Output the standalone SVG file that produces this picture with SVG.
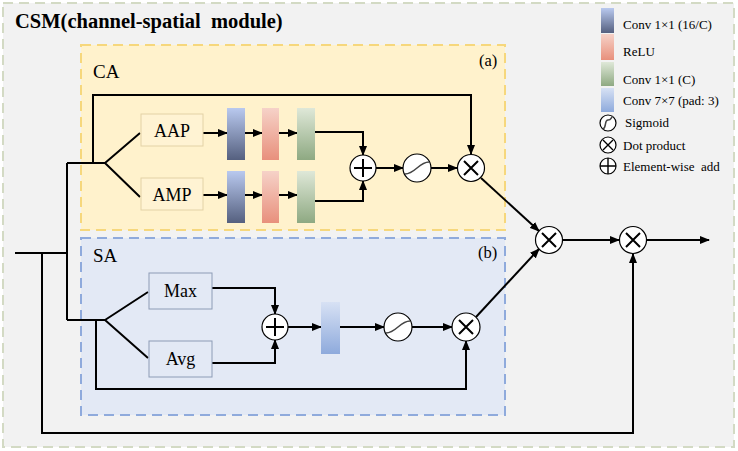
<svg xmlns="http://www.w3.org/2000/svg" width="738" height="451" viewBox="0 0 738 451">
<defs>
<marker id="arr" markerUnits="userSpaceOnUse" markerWidth="10" markerHeight="8" refX="9" refY="4" orient="auto">
<path d="M0,0 L10,4 L0,8 Z" fill="#000"/>
</marker>
<linearGradient id="gBlue" x1="0" y1="0" x2="0" y2="1"><stop offset="0" stop-color="#b9c9ef"/><stop offset="1" stop-color="#55607f"/></linearGradient>
<linearGradient id="gPink" x1="0" y1="0" x2="0" y2="1"><stop offset="0" stop-color="#f6d2c8"/><stop offset="1" stop-color="#e8907c"/></linearGradient>
<linearGradient id="gGreen" x1="0" y1="0" x2="0" y2="1"><stop offset="0" stop-color="#dfe8d8"/><stop offset="1" stop-color="#8ea982"/></linearGradient>
<linearGradient id="gLight" x1="0" y1="0" x2="0" y2="1"><stop offset="0" stop-color="#d7e1f4"/><stop offset="1" stop-color="#8eaadc"/></linearGradient>
</defs>
<style>
.t{font-family:"Liberation Serif","Times New Roman",serif;fill:#000}
.lbl{font-size:18px}
.lg{font-size:13px}
.c{fill:none;stroke:#000;stroke-width:2}
.ca{marker-end:url(#arr)}
.op{fill:#fff;stroke:#000;stroke-width:1.2}
.sym{fill:none;stroke:#000;stroke-width:2}
.sig{fill:none;stroke:#444;stroke-width:1.5}
</style>
<g id="outer">
<rect x="3" y="3" width="731" height="444" fill="#f2f2f2" stroke="#d3dac4" stroke-width="2" stroke-dasharray="10,6"/>
<text class="t" x="15" y="28" font-size="20.5" font-weight="bold" xml:space="preserve">CSM(channel-spatial  module)</text>
</g>
<g id="CA">
<rect x="81" y="45" width="424" height="185" fill="#fff2cc" stroke="#f6d77c" stroke-width="2" stroke-dasharray="10,6"/>
<text class="t" x="93" y="78" font-size="19">CA</text>
<text class="t" x="479" y="66" font-size="16.5">(a)</text>
</g>
<g id="SA">
<rect x="81" y="238" width="424" height="177" fill="#e3e9f5" stroke="#8faadc" stroke-width="2" stroke-dasharray="10,6"/>
<text class="t" x="93" y="262" font-size="19">SA</text>
<text class="t" x="478" y="258" font-size="16.5">(b)</text>
</g>
<g id="connectors">
<path class="c" d="M15,253 H67"/>
<path class="c" d="M67,163 V320"/>
<path class="c" d="M67,163 H105"/>
<path class="c ca" d="M93,163 V95 H471 V154"/>
<path class="c" d="M105,163 L140,133 M105,163 L140,197"/>
<path class="c ca" d="M203,133 H227"/>
<path class="c ca" d="M245,133 H262"/>
<path class="c ca" d="M279,133 H297"/>
<path class="c ca" d="M203,195 H227"/>
<path class="c ca" d="M245,195 H262"/>
<path class="c ca" d="M279,195 H297"/>
<path class="c ca" d="M315,132 H363 V155"/>
<path class="c ca" d="M315,201 H363 V181"/>
<path class="c ca" d="M376,168 H403"/>
<path class="c ca" d="M431,168 H457"/>
<path class="c ca" d="M481,178 L539,231"/>
<path class="c" d="M67,320 H105"/>
<path class="c" d="M105,320 L148,292 M105,320 L148,358"/>
<path class="c ca" d="M96,320 V389 H466 V341"/>
<path class="c ca" d="M212,288 H275 V314"/>
<path class="c ca" d="M212,363 H275 V340"/>
<path class="c ca" d="M288,327 H321"/>
<path class="c ca" d="M340,327 H384"/>
<path class="c ca" d="M412,327 H452"/>
<path class="c ca" d="M476,317 L539,249"/>
<path class="c ca" d="M563,240 H619"/>
<path class="c ca" d="M647,240 H709"/>
<path class="c ca" d="M42,253 V433 H633 V254"/>
</g>
<g id="AAP">
<rect x="141" y="114" width="62" height="32" fill="#fff3d3" stroke="#e3d2a6" stroke-width="1"/>
<text class="t lbl" x="172" y="137" text-anchor="middle">AAP</text>
</g>
<g id="AMP">
<rect x="141" y="178" width="62" height="32" fill="#fff3d3" stroke="#e3d2a6" stroke-width="1"/>
<text class="t lbl" x="172" y="201" text-anchor="middle">AMP</text>
</g>
<g id="conv1a"><rect x="227" y="108" width="18" height="52" fill="url(#gBlue)"/></g>
<g id="relua"><rect x="262" y="108" width="17" height="52" fill="url(#gPink)"/></g>
<g id="conv2a"><rect x="297" y="108" width="18" height="52" fill="url(#gGreen)"/></g>
<g id="conv1b"><rect x="227" y="171" width="18" height="52" fill="url(#gBlue)"/></g>
<g id="relub"><rect x="262" y="171" width="17" height="52" fill="url(#gPink)"/></g>
<g id="conv2b"><rect x="297" y="171" width="18" height="52" fill="url(#gGreen)"/></g>
<g id="addCA">
<circle class="op" cx="363" cy="168" r="13"/>
<path class="sym" d="M363,159 V177 M354,168 H372"/>
</g>
<g id="sigCA">
<circle class="op" cx="417" cy="168" r="14"/>
<path class="sig" d="M405,174 C415,174 419,162 429,162"/>
</g>
<g id="mulCA">
<circle class="op" cx="471" cy="168" r="13.5"/>
<path class="sym" d="M464,161 L478,175 M478,161 L464,175"/>
</g>
<g id="Max">
<rect x="149" y="273" width="63" height="36" fill="#e3e9f5" stroke="#8d9cb6" stroke-width="1"/>
<text class="t lbl" x="180.5" y="297" text-anchor="middle">Max</text>
</g>
<g id="Avg">
<rect x="149" y="341" width="63" height="36" fill="#e3e9f5" stroke="#8d9cb6" stroke-width="1"/>
<text class="t lbl" x="180.5" y="365" text-anchor="middle">Avg</text>
</g>
<g id="addSA">
<circle class="op" cx="275" cy="327" r="13"/>
<path class="sym" d="M275,318 V336 M266,327 H284"/>
</g>
<g id="conv7"><rect x="321" y="302" width="19" height="52" fill="url(#gLight)"/></g>
<g id="sigSA">
<circle class="op" cx="398" cy="327" r="14"/>
<path class="sig" d="M386,333 C396,333 400,321 410,321"/>
</g>
<g id="mulSA">
<circle class="op" cx="466" cy="327" r="14"/>
<path class="sym" d="M459,320 L473,334 M473,320 L459,334"/>
</g>
<g id="mul1">
<circle class="op" cx="549" cy="240" r="13.5"/>
<path class="sym" d="M542,233 L556,247 M556,233 L542,247"/>
</g>
<g id="mul2">
<circle class="op" cx="633" cy="240" r="13.5"/>
<path class="sym" d="M626,233 L640,247 M640,233 L626,247"/>
</g>
<g id="legend">
<rect x="601" y="8" width="13" height="25" fill="url(#gBlue)"/>
<text class="t lg" x="623" y="29">Conv 1×1 (16/C)</text>
<rect x="601" y="34" width="13" height="26" fill="url(#gPink)"/>
<text class="t lg" x="623" y="56">ReLU</text>
<rect x="601" y="62" width="13" height="24" fill="url(#gGreen)"/>
<text class="t lg" x="623" y="84">Conv 1×1 (C)</text>
<rect x="601" y="88" width="13" height="24" fill="url(#gLight)"/>
<text class="t lg" x="623" y="105">Conv 7×7 (pad: 3)</text>
<circle class="op" cx="608" cy="123" r="8"/>
<path class="sig" d="M603,129 C607,127 604,120 608,120 C612,120 610,118 613,116"/>
<text class="t lg" x="625" y="127">Sigmoid</text>
<circle class="op" cx="608" cy="145" r="8"/>
<path fill="none" stroke="#000" stroke-width="1.4" d="M603,140 L613,150 M613,140 L603,150"/>
<text class="t lg" x="623" y="150">Dot product</text>
<circle class="op" cx="608" cy="166" r="8"/>
<path fill="none" stroke="#000" stroke-width="1.4" d="M608,158 V174 M600,166 H616"/>
<text class="t lg" x="623" y="171" xml:space="preserve">Element-wise  add</text>
</g>
</svg>
